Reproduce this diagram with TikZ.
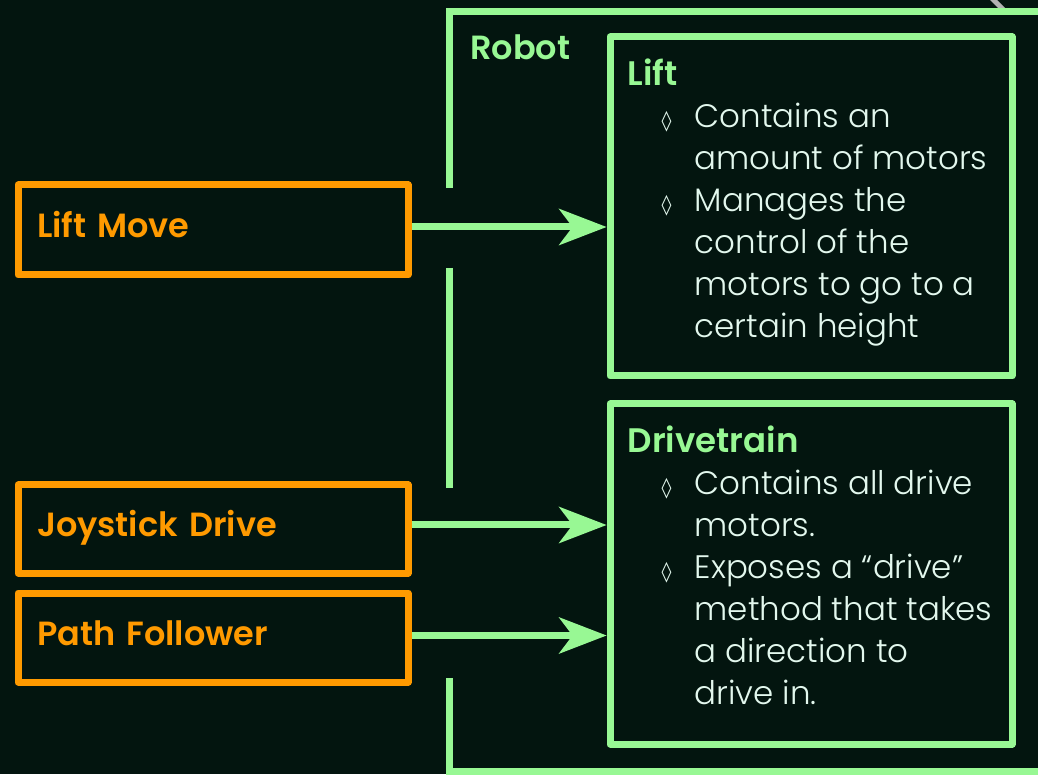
\documentclass[tikz,border=0pt]{standalone}
\usepackage{fontspec}
\setmainfont{Poppins}[BoldFont={Poppins SemiBold}]
\newfontfamily\lightfont{Poppins Light}
\newfontfamily\symbolfont{DejaVu Sans}
\usetikzlibrary{arrows.meta}
\usetikzlibrary{calc,positioning}

\definecolor{bg}{HTML}{03150F}
\definecolor{mint}{HTML}{98F894}
\definecolor{amber}{HTML}{FF9A00}
\definecolor{chalk}{HTML}{E3F8EE}

% bullet lines inside the unit boxes
\newcommand{\bul}{\hspace*{34pt}\makebox[33pt][l]{\symbolfont\fontsize{20}{20}\selectfont ◊}}
\newcommand{\cont}{\hspace*{67pt}}
\newcommand{\head}[1]{\rule{0pt}{30pt}{\rmfamily\bfseries\fontsize{34}{42}\selectfont\color{mint}#1}}

\begin{document}
\begin{tikzpicture}[x=1pt, y=1pt,
    frame/.style={draw=mint, line width=7pt},
    unitbox/.style={draw=mint, line width=7pt, line join=round, minimum width=402pt},
    notes/.style={anchor=north west, inner sep=0pt, align=left, text=chalk, font=\lightfont\fontsize{32.5}{42}\selectfont},
    caller/.style={draw=amber, line width=7pt, line join=round, minimum width=390pt, minimum height=90pt,
        text width=352pt, inner xsep=19pt, align=left, text height=25pt, text depth=10pt,
        text=amber, font=\bfseries\fontsize{33.5}{40}\selectfont},
    flow/.style={draw=mint, line width=7pt, -{Stealth[length=48pt, width=37pt, inset=14pt, line width=0pt]}}]

    \path[use as bounding box, fill=bg] (0,0) rectangle (1038,774);
    \clip (0,0) rectangle (1038,774);

    % scrap of an image peeking over the top edge
    \fill[gray!60] (990,774) -- (997,774) -- (1006,765) -- (999,765) -- cycle;

    % the robot frame, left side broken where the calls pass through
    \draw[frame] (449.5,586) |- (1060,762);
    \draw[frame] (449.5,506) -- (449.5,286);
    \draw[frame] (449.5,96) |- (1060,3);
    \node[anchor=base west, inner sep=0pt, text=mint, font=\bfseries\fontsize{33.5}{40}\selectfont] (robot) at (470,714) {Robot};

    % subsystems
    \node[unitbox, minimum height=339pt] (lift) at (811,567.5) {};
    \node[unitbox, minimum height=340pt] (drive) at (811,200) {};

    \node[notes] (liftnotes) at ([xshift=21pt, yshift=-22pt]lift.north west) {\head{Lift}\\
        \bul Contains an\\
        \cont amount of motors\\
        \bul Manages the\\
        \cont control of the\\
        \cont motors to go to a\\
        \cont certain height};
    \node[notes] (drivenotes) at ([xshift=21pt, yshift=-22pt]drive.north west) {\head{Drivetrain}\\
        \bul Contains all drive\\
        \cont motors.\\
        \bul Exposes a “drive”\\
        \cont method that takes\\
        \cont a direction to\\
        \cont drive in.};

    % commands
    \node[caller] (liftmove) at (213,544) {Lift Move};
    \node[caller, minimum height=88pt] (joystick) at (213,245) {Joystick Drive};
    \node[caller, minimum height=89pt] (follower) at (213,136.5) {Path Follower};

    \draw[flow] ([yshift=3pt]liftmove.east) -- ([yshift=3pt]liftmove.east -| lift.west);
    \draw[flow] ([yshift=4pt]joystick.east) -- ([yshift=4pt]joystick.east -| drive.west);
    \draw[flow] ([yshift=2pt]follower.east) -- ([yshift=2pt]follower.east -| drive.west);

\end{tikzpicture}
\end{document}
